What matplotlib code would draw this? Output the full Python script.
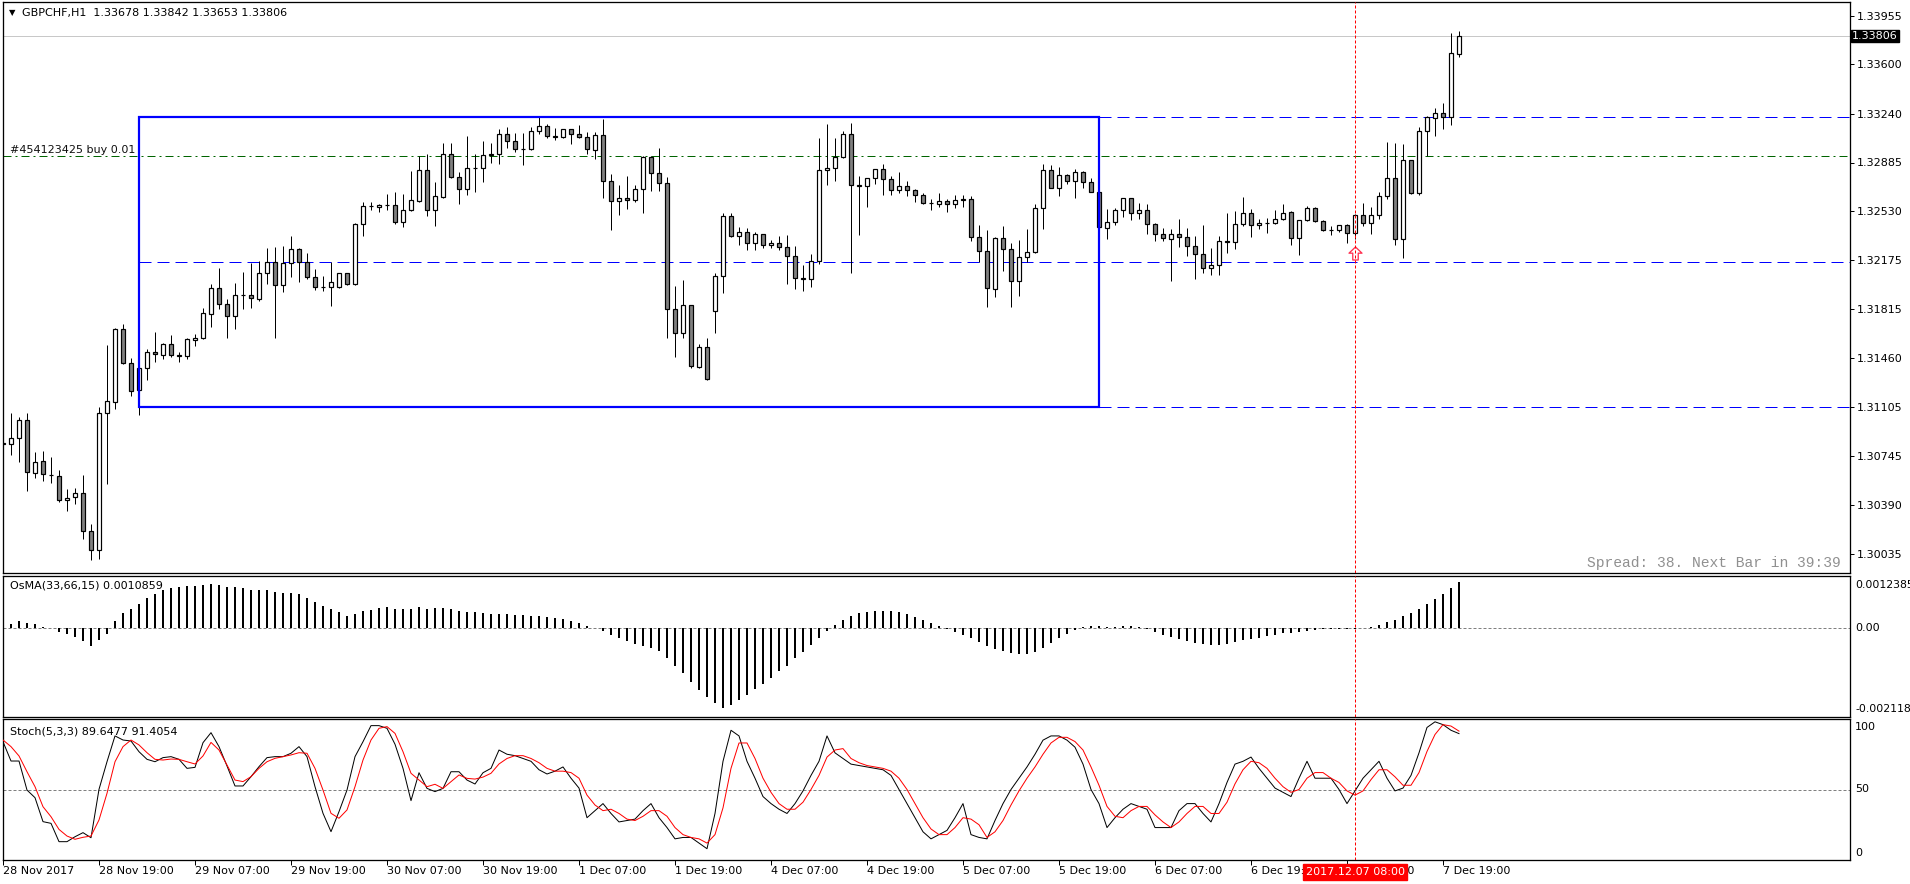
#!/usr/bin/env python3
"""
GBPCHF H1 terminal chart: candles with a range box, OsMA histogram and Stochastic.
"""

import matplotlib

matplotlib.use("Agg")  # Non-interactive backend
import matplotlib.pyplot as plt
import matplotlib.transforms as mtransforms
from matplotlib.patches import Rectangle
from matplotlib.path import Path

# ---------------------------------------------------------------- data
symbol_title = "GBPCHF,H1  1.33678 1.33842 1.33653 1.33806"

opens = [
    1.30841, 1.30834, 1.30877, 1.31008, 1.30625, 1.30710, 1.30612, 1.30605, 1.30426, 1.30448,
    1.30477, 1.30200, 1.30062, 1.31064, 1.31140, 1.31671, 1.31423, 1.31227, 1.31387, 1.31503,
    1.31485, 1.31565, 1.31481, 1.31478, 1.31595, 1.31605, 1.31785, 1.31969, 1.31853, 1.31768,
    1.31918, 1.31920, 1.31893, 1.32078, 1.32163, 1.31991, 1.32151, 1.32253, 1.32163, 1.32049,
    1.31976, 1.31981, 1.31976, 1.32078, 1.31998, 1.32440, 1.32571, 1.32559, 1.32578, 1.32578,
    1.32450, 1.32537, 1.32606, 1.32828, 1.32537, 1.32636, 1.32945, 1.32782, 1.32694, 1.32843,
    1.32846, 1.32940, 1.32949, 1.33090, 1.33039, 1.32981, 1.32984, 1.33112, 1.33149, 1.33080,
    1.33068, 1.33127, 1.33090, 1.33068, 1.32978, 1.33083, 1.32748, 1.32603, 1.32624, 1.32610,
    1.32690, 1.32923, 1.32806, 1.32734, 1.31816, 1.31642, 1.31845, 1.31394, 1.31540, 1.31802,
    1.32057, 1.32493, 1.32348, 1.32377, 1.32297, 1.32362, 1.32282, 1.32297, 1.32268, 1.32202,
    1.32042, 1.32040, 1.32166, 1.32828, 1.32843, 1.32923, 1.33090, 1.32719, 1.32712, 1.32770,
    1.32835, 1.32763, 1.32683, 1.32712, 1.32683, 1.32646, 1.32588, 1.32581, 1.32603, 1.32581,
    1.32617, 1.32617, 1.32341, 1.32239, 1.31965, 1.32337, 1.32253, 1.32020, 1.32195, 1.32231,
    1.32552, 1.32828, 1.32697, 1.32792, 1.32748, 1.32814, 1.32741, 1.32668, 1.32406, 1.32450,
    1.32537, 1.32624, 1.32515, 1.32537, 1.32435, 1.32362, 1.32330, 1.32362, 1.32341, 1.32275,
    1.32217, 1.32115, 1.32137, 1.32311, 1.32308, 1.32435, 1.32515, 1.32428, 1.32442, 1.32442,
    1.32472, 1.32522, 1.32333, 1.32464, 1.32552, 1.32457, 1.32391, 1.32391, 1.32428, 1.32370,
    1.32500, 1.32442, 1.32500, 1.32639, 1.32770, 1.32326, 1.32901, 1.32661, 1.33112, 1.33210,
    1.33243, 1.33214, 1.33678,
]
highs = [
    1.30908, 1.31061, 1.31032, 1.31061, 1.30777, 1.30785, 1.30741, 1.30644, 1.30506, 1.30513,
    1.30612, 1.30253, 1.31103, 1.31554, 1.31680, 1.31709, 1.31460, 1.31390, 1.31525, 1.31649,
    1.31573, 1.31629, 1.31503, 1.31607, 1.31637, 1.31826, 1.32000, 1.32117, 1.31891, 1.32008,
    1.32086, 1.32153, 1.32168, 1.32265, 1.32270, 1.32279, 1.32348, 1.32260, 1.32224, 1.32112,
    1.32059, 1.32163, 1.32083, 1.32083, 1.32445, 1.32595, 1.32595, 1.32580, 1.32654, 1.32670,
    1.32654, 1.32823, 1.32932, 1.32949, 1.32745, 1.33027, 1.33027, 1.32816, 1.33078, 1.32947,
    1.33042, 1.33025, 1.33129, 1.33141, 1.33098, 1.33100, 1.33141, 1.33214, 1.33163, 1.33134,
    1.33127, 1.33130, 1.33156, 1.33105, 1.33107, 1.33200, 1.32799, 1.32719, 1.32785, 1.32719,
    1.32930, 1.32930, 1.32988, 1.32777, 1.31984, 1.32027, 1.31850, 1.31561, 1.31605, 1.32078,
    1.32515, 1.32515, 1.32413, 1.32406, 1.32377, 1.32365, 1.32319, 1.32348, 1.32355, 1.32275,
    1.32137, 1.32217, 1.33063, 1.33163, 1.33063, 1.33112, 1.33170, 1.32785, 1.32775, 1.32838,
    1.32872, 1.32785, 1.32814, 1.32748, 1.32690, 1.32661, 1.32617, 1.32661, 1.32617, 1.32646,
    1.32646, 1.32639, 1.32428, 1.32391, 1.32341, 1.32421, 1.32297, 1.32319, 1.32399, 1.32581,
    1.32872, 1.32865, 1.32850, 1.32799, 1.32835, 1.32821, 1.32770, 1.32690, 1.32544, 1.32552,
    1.32624, 1.32628, 1.32588, 1.32581, 1.32442, 1.32406, 1.32399, 1.32472, 1.32406, 1.32348,
    1.32428, 1.32260, 1.32348, 1.32515, 1.32530, 1.32632, 1.32544, 1.32472, 1.32479, 1.32537,
    1.32585, 1.32530, 1.32464, 1.32566, 1.32559, 1.32464, 1.32421, 1.32428, 1.32435, 1.32508,
    1.32588, 1.32559, 1.32668, 1.33032, 1.33025, 1.33017, 1.32905, 1.33141, 1.33221, 1.33280,
    1.33316, 1.33826, 1.33842,
]
lows = [
    1.30814, 1.30756, 1.30705, 1.30494, 1.30588, 1.30566, 1.30550, 1.30411, 1.30350, 1.30401,
    1.30146, 1.29991, 1.30001, 1.30547, 1.31093, 1.31415, 1.31185, 1.31049, 1.31299, 1.31430,
    1.31457, 1.31471, 1.31433, 1.31454, 1.31549, 1.31602, 1.31690, 1.31816, 1.31610, 1.31675,
    1.31821, 1.31828, 1.31879, 1.32003, 1.31610, 1.31944, 1.32054, 1.32017, 1.32035, 1.31959,
    1.31952, 1.31838, 1.31969, 1.31993, 1.31995, 1.32352, 1.32537, 1.32527, 1.32537, 1.32440,
    1.32413, 1.32530, 1.32600, 1.32498, 1.32425, 1.32629, 1.32774, 1.32585, 1.32651, 1.32672,
    1.32745, 1.32884, 1.32876, 1.32993, 1.32964, 1.32869, 1.32978, 1.33090, 1.33061, 1.33051,
    1.33061, 1.33022, 1.33061, 1.32949, 1.32908, 1.32629, 1.32396, 1.32505, 1.32544, 1.32595,
    1.32515, 1.32675, 1.32675, 1.31610, 1.31471, 1.31605, 1.31387, 1.31387, 1.31300, 1.31642,
    1.31933, 1.32341, 1.32287, 1.32246, 1.32246, 1.32260, 1.32265, 1.32246, 1.32003, 1.31966,
    1.31952, 1.31981, 1.32148, 1.32719, 1.32752, 1.32920, 1.32083, 1.32359, 1.32563, 1.32726,
    1.32651, 1.32651, 1.32661, 1.32639, 1.32600, 1.32581, 1.32537, 1.32559, 1.32522, 1.32552,
    1.32563, 1.32311, 1.32158, 1.31835, 1.31904, 1.32097, 1.31835, 1.31911, 1.32158, 1.32224,
    1.32403, 1.32697, 1.32639, 1.32726, 1.32624, 1.32697, 1.32668, 1.32391, 1.32326, 1.32428,
    1.32486, 1.32464, 1.32472, 1.32362, 1.32311, 1.32311, 1.32020, 1.32268, 1.32202, 1.32035,
    1.32078, 1.32064, 1.32064, 1.32224, 1.32253, 1.32421, 1.32341, 1.32399, 1.32370, 1.32435,
    1.32464, 1.32282, 1.32209, 1.32457, 1.32450, 1.32384, 1.32355, 1.32377, 1.32297, 1.32326,
    1.32421, 1.32362, 1.32472, 1.32621, 1.32284, 1.32192, 1.32654, 1.32646, 1.32930, 1.33076,
    1.33127, 1.33156, 1.33653,
]
closes = [
    1.30836, 1.30877, 1.31008, 1.30630, 1.30707, 1.30615, 1.30608, 1.30426, 1.30445, 1.30481,
    1.30200, 1.30062, 1.31064, 1.31147, 1.31671, 1.31423, 1.31219, 1.31387, 1.31503, 1.31489,
    1.31561, 1.31481, 1.31478, 1.31598, 1.31608, 1.31787, 1.31969, 1.31853, 1.31770, 1.31918,
    1.31922, 1.31896, 1.32078, 1.32158, 1.31991, 1.32151, 1.32253, 1.32163, 1.32049, 1.31976,
    1.31981, 1.32013, 1.32078, 1.31998, 1.32440, 1.32571, 1.32568, 1.32578, 1.32576, 1.32450,
    1.32537, 1.32610, 1.32828, 1.32537, 1.32639, 1.32945, 1.32782, 1.32694, 1.32843, 1.32846,
    1.32937, 1.32949, 1.33090, 1.33039, 1.32981, 1.32984, 1.33112, 1.33149, 1.33076, 1.33068,
    1.33127, 1.33090, 1.33068, 1.32981, 1.33083, 1.32748, 1.32603, 1.32624, 1.32610, 1.32690,
    1.32923, 1.32806, 1.32734, 1.31816, 1.31642, 1.31845, 1.31401, 1.31540, 1.31307, 1.32057,
    1.32493, 1.32348, 1.32377, 1.32297, 1.32362, 1.32282, 1.32297, 1.32268, 1.32202, 1.32042,
    1.32040, 1.32166, 1.32828, 1.32843, 1.32923, 1.33090, 1.32719, 1.32712, 1.32770, 1.32835,
    1.32763, 1.32683, 1.32712, 1.32683, 1.32646, 1.32588, 1.32592, 1.32603, 1.32581, 1.32610,
    1.32610, 1.32341, 1.32239, 1.31969, 1.32333, 1.32253, 1.32020, 1.32195, 1.32231, 1.32552,
    1.32828, 1.32697, 1.32792, 1.32748, 1.32814, 1.32741, 1.32668, 1.32413, 1.32450, 1.32537,
    1.32624, 1.32515, 1.32537, 1.32435, 1.32362, 1.32333, 1.32362, 1.32341, 1.32275, 1.32217,
    1.32115, 1.32137, 1.32311, 1.32308, 1.32435, 1.32515, 1.32428, 1.32442, 1.32445, 1.32472,
    1.32515, 1.32333, 1.32464, 1.32552, 1.32457, 1.32391, 1.32391, 1.32428, 1.32370, 1.32500,
    1.32442, 1.32500, 1.32639, 1.32770, 1.32326, 1.32901, 1.32661, 1.33112, 1.33214, 1.33243,
    1.33214, 1.33680, 1.33806,
]

osma = [
    0.00007, 0.00009, 0.00016, 0.00011, 0.00009, 0.00003, -0.00001, -0.00009, -0.00014, -0.00021,
    -0.00032, -0.00044, -0.00030, -0.00014, 0.00017, 0.00036, 0.00045, 0.00058, 0.00071, 0.00081,
    0.00090, 0.00095, 0.00098, 0.00100, 0.00101, 0.00103, 0.00104, 0.00103, 0.00098, 0.00097,
    0.00095, 0.00090, 0.00090, 0.00090, 0.00085, 0.00083, 0.00083, 0.00081, 0.00071, 0.00062,
    0.00053, 0.00045, 0.00038, 0.00029, 0.00034, 0.00041, 0.00043, 0.00048, 0.00050, 0.00045,
    0.00045, 0.00045, 0.00050, 0.00045, 0.00047, 0.00047, 0.00045, 0.00041, 0.00038, 0.00038,
    0.00036, 0.00034, 0.00034, 0.00033, 0.00031, 0.00031, 0.00028, 0.00028, 0.00026, 0.00024,
    0.00021, 0.00017, 0.00012, 0.00005, 0.00000, -0.00007, -0.00017, -0.00024, -0.00031, -0.00038,
    -0.00043, -0.00047, -0.00055, -0.00071, -0.00090, -0.00107, -0.00130, -0.00149, -0.00166, -0.00180,
    -0.00192, -0.00185, -0.00173, -0.00161, -0.00147, -0.00133, -0.00119, -0.00104, -0.00090, -0.00073,
    -0.00057, -0.00040, -0.00024, -0.00007, 0.00007, 0.00019, 0.00028, 0.00036, 0.00038, 0.00040,
    0.00040, 0.00040, 0.00038, 0.00033, 0.00026, 0.00019, 0.00012, 0.00005, -0.00002, -0.00009,
    -0.00017, -0.00024, -0.00033, -0.00043, -0.00050, -0.00055, -0.00059, -0.00062, -0.00062, -0.00057,
    -0.00047, -0.00036, -0.00024, -0.00014, -0.00005, 0.00002, 0.00005, 0.00005, 0.00002, 0.00002,
    0.00005, 0.00005, 0.00002, -0.00002, -0.00009, -0.00017, -0.00021, -0.00026, -0.00031, -0.00036,
    -0.00038, -0.00040, -0.00040, -0.00038, -0.00033, -0.00028, -0.00026, -0.00024, -0.00019, -0.00017,
    -0.00012, -0.00012, -0.00009, -0.00007, -0.00005, -0.00002, -0.00002, -0.00002, -0.00002, -0.00002,
    0.00000, 0.00002, 0.00007, 0.00014, 0.00019, 0.00028, 0.00036, 0.00045, 0.00057, 0.00069,
    0.00081, 0.00095, 0.0010859,
]

stoch_main = [
    83.9, 70.2, 70.2, 49.6, 44.2, 27.2, 26.0, 13.0, 13.0, 16.5,
    19.4, 15.8, 50.1, 69.7, 88.0, 85.1, 84.4, 76.8, 71.4, 69.7,
    72.6, 73.3, 71.4, 65.0, 65.7, 83.2, 90.3, 80.4, 66.7, 52.5,
    52.5, 59.1, 66.2, 72.6, 73.3, 73.3, 75.7, 80.4, 73.3, 52.0,
    33.1, 20.1, 34.3, 49.6, 73.3, 83.9, 95.3, 95.3, 93.4, 82.1,
    65.0, 42.1, 61.9, 50.8, 48.5, 50.8, 62.6, 62.6, 56.7, 53.9,
    61.9, 65.0, 78.0, 75, 74, 72, 70, 64, 61, 63,
    66, 58, 51, 30, 35, 40, 33, 27, 28, 29,
    35, 40, 30, 23, 15, 16, 16, 12, 8, 33,
    70, 92, 88, 70, 58, 45, 40, 36, 33, 40,
    49, 60, 70, 88, 76, 72, 68, 67, 66, 65,
    64, 60, 50, 40, 30, 20, 15, 18, 21, 30,
    40, 18, 16, 15, 28, 40, 50, 58, 66, 75,
    85, 88, 88, 85, 80, 68, 50, 40, 23, 30,
    36, 40, 38, 36, 23, 23, 23, 35, 40, 40,
    33, 27, 40, 55, 68, 70, 73, 65, 58, 51,
    48, 45, 58, 70, 58, 58, 58, 50, 40, 49,
    58, 64, 70, 58, 49, 51, 60, 76, 94, 98,
    96, 92, 89.6477,
]
stoch_signal = [
    85.1, 80.4, 73.8, 62.6, 52.0, 37.8, 30.7, 21.7, 17.0, 14.7,
    16.1, 17.0, 28.4, 47.3, 69.7, 80.4, 85.1, 81.6, 76.1, 71.4,
    70.9, 71.6, 71.4, 69.7, 68.1, 73.8, 83.4, 78.0, 67.4, 56.7,
    55.6, 59.1, 65.0, 69.7, 72.1, 73.3, 74.5, 76.1, 75.7, 65.0,
    49.6, 33.1, 29.6, 35.5, 52.0, 70.9, 85.1, 93.4, 94.6, 89.8,
    76.8, 61.5, 56.7, 52.0, 53.7, 50.8, 55.6, 60.3, 57.9, 57.4,
    58.8, 61.5, 68.1, 72, 74, 74, 72, 69, 65, 63,
    63, 62, 58, 46, 39, 35, 36, 33, 29, 28,
    31, 35, 35, 31, 23, 18, 16, 15, 12, 18,
    37, 65, 83, 83, 72, 58, 48, 40, 36, 36,
    41, 50, 60, 73, 78, 79, 72, 69, 67, 66,
    65, 63, 58, 50, 40, 30, 22, 18, 18, 23,
    30, 29, 25, 16, 20, 28, 39, 49, 58, 66,
    75, 83, 87, 87, 84, 78, 66, 53, 38, 31,
    30, 35, 38, 38, 32, 27, 23, 27, 33, 38,
    38, 33, 33, 41, 54, 64, 70, 69, 65, 58,
    52, 48, 50, 58, 62, 62, 58, 55, 49, 46,
    49, 57, 64, 64, 59, 53, 53, 62, 77, 89,
    96, 95, 91.4054,
]

price_ticks = [1.33955, 1.33600, 1.33240, 1.32885, 1.32530, 1.32175,
               1.31815, 1.31460, 1.31105, 1.30745, 1.30390, 1.30035]
time_tick_bars = list(range(0, 181, 12))
time_tick_labels = [
    "28 Nov 2017", "28 Nov 19:00", "29 Nov 07:00", "29 Nov 19:00", "30 Nov 07:00",
    "30 Nov 19:00", "1 Dec 07:00", "1 Dec 19:00", "4 Dec 07:00", "4 Dec 19:00",
    "5 Dec 07:00", "5 Dec 19:00", "6 Dec 07:00", "6 Dec 19:00", "7 Dec 07:00", "7 Dec 19:00",
]

# chart objects
box_start, box_end = 17, 137
box_top, box_mid, box_bottom = 1.33216, 1.32158, 1.31107
order_price = 1.32930
order_label = "#454123425 buy 0.01"
bid_price = 1.33806
marker_bar = 169
marker_label = "2017.12.07 08:00"
arrow_price = 1.32226
osma_label = "OsMA(33,66,15) 0.0010859"
osma_range = (-0.002118, 0.0012385)
stoch_label = "Stoch(5,3,3) 89.6477 91.4054"
spread_text = "Spread: 38. Next Bar in 39:39"

# ---------------------------------------------------------------- layout
W, H, DPI = 1910, 884, 100
PX = 72.0 / DPI  # one pixel in points
X_LEFT, X_RIGHT = 2.5, 1850.0
BAR_PX = 8.0
XMIN = (X_LEFT - 3) / BAR_PX
XMAX = (X_RIGHT - 3) / BAR_PX
FONT = "DejaVu Sans"
BLUE = "#0000ff"
RED = "#ff0000"


def frac(x0, y0, x1, y1):
    """Pixel box (top-left origin) to figure fraction rect."""
    return [x0 / W, 1 - y1 / H, (x1 - x0) / W, (y1 - y0) / H]


def style_axes(ax):
    ax.set_xlim(XMIN, XMAX)
    ax.set_xticks([])
    ax.set_yticks([])
    for sp in ax.spines.values():
        sp.set_linewidth(PX * 1.3)
        sp.set_color("black")


def right_label(ax, value, text, y_off, size=8):
    """Scale label just right of a panel, nudged vertically by y_off pixels."""
    tr = mtransforms.offset_copy(
        mtransforms.blended_transform_factory(ax.transAxes, ax.transData),
        fig=ax.figure, x=0, y=y_off, units="dots")
    ax.text((1855 - X_LEFT) / (X_RIGHT - X_LEFT), value, text, ha="left", va="center",
            fontsize=size, clip_on=False, transform=tr)


plt.rcParams["font.family"] = [FONT]
plt.rcParams["font.size"] = 8

fig = plt.figure(figsize=(W / DPI, H / DPI), dpi=DPI)
fig.patch.set_facecolor("white")

ax = fig.add_axes(frac(X_LEFT, 2, X_RIGHT, 573))
ax_os = fig.add_axes(frac(X_LEFT, 576, X_RIGHT, 716.5))
ax_st = fig.add_axes(frac(X_LEFT, 719, X_RIGHT, 860))
for a in (ax, ax_os, ax_st):
    style_axes(a)

# ---------------------------------------------------------------- main price panel
ax.set_ylim(1.34068 - 573 * 7.28e-5, 1.34068 - 2 * 7.28e-5)

bars = range(len(closes))
ax.vlines(bars, lows, highs, color="black", linewidth=PX, zorder=3)
for i in bars:
    o, c = opens[i], closes[i]
    face = "white" if c >= o else "#808080"
    ax.add_patch(Rectangle((i - 0.28, min(o, c)), 0.56, abs(c - o),
                           facecolor=face, edgecolor="black", linewidth=PX * 1.2, zorder=4))

# bid line
ax.axhline(bid_price, color="#c8c8c8", linewidth=PX, zorder=1)

# range box and its levels
ax.add_patch(Rectangle((box_start, box_bottom), box_end - box_start, box_top - box_bottom,
                       fill=False, edgecolor=BLUE, linewidth=PX * 2.2, zorder=5))
dash = (0, (12, 6))
ax.hlines([box_top, box_bottom], box_end, XMAX + 5, colors=BLUE, linewidth=PX, linestyles=[dash], zorder=2)
ax.hlines(box_mid, box_start, XMAX + 5, colors=BLUE, linewidth=PX, linestyles=[dash], zorder=2)

# order line
ax.axhline(order_price, color="#006400", linewidth=PX, linestyle=(0, (8, 4, 2, 4)), zorder=2)
ax.text(0.9, order_price, order_label, fontsize=8, color="#101010", ha="left", va="bottom",
        transform=mtransforms.offset_copy(ax.transData, fig=fig, x=0, y=1, units="dots"))

# arrow signal
arrow = Path([(0, 1), (1, 0.05), (0.42, 0.05), (0.42, -1), (-0.42, -1), (-0.42, 0.05), (-1, 0.05), (0, 1)],
             closed=True)
ax.plot([marker_bar], [arrow_price], marker=arrow, markersize=13 * PX, markerfacecolor="white",
        markeredgecolor="#ff3050", markeredgewidth=1.3 * PX, linestyle="none", zorder=6)

# price scale
ax.yaxis.tick_right()
ax.set_yticks(price_ticks)
ax.set_yticklabels([f"{p:.5f}" for p in price_ticks])
ax.tick_params(axis="y", direction="out", length=4 * PX, width=PX, labelsize=8, pad=2)
ax.text((1852 - X_LEFT) / (X_RIGHT - X_LEFT), bid_price, f"{bid_price:.5f}", color="white",
        fontsize=8, ha="left", va="center", zorder=10, clip_on=False,
        transform=mtransforms.blended_transform_factory(ax.transAxes, ax.transData),
        bbox=dict(boxstyle="square,pad=0.12", facecolor="black", edgecolor="black"))

ax.text(0.9951, 0.0175, spread_text, transform=ax.transAxes, ha="right", va="center",
        family="Liberation Mono", fontsize=10.5, color="#909090")

fig.text(9 / W, 1 - 13 / H, "\u25bc", fontsize=6, ha="left", va="center")
fig.text(22 / W, 1 - 13 / H, symbol_title, fontsize=8, ha="left", va="center")

# ---------------------------------------------------------------- OsMA panel
ax_os.set_ylim(*osma_range)
ax_os.bar(list(bars), osma, width=0.34, color="black", linewidth=0, zorder=3)
ax_os.axhline(0, color="#808080", linewidth=PX, linestyle=(0, (3, 2)), zorder=1)
ax_os.text(7 / 1847.5, 0.93, osma_label, transform=ax_os.transAxes, ha="left", va="center", fontsize=8)
right_label(ax_os, osma_range[1], "0.0012385", -9, size=7.8)
right_label(ax_os, 0.0, "0.00", 0)
right_label(ax_os, osma_range[0], "-0.002118", 7, size=7.8)

# ---------------------------------------------------------------- Stochastic panel
ax_st.set_ylim(0, 100)
ax_st.plot(list(bars), stoch_main, color="black", linewidth=PX, zorder=3)
ax_st.plot(list(bars), stoch_signal, color=RED, linewidth=PX, zorder=3)
ax_st.axhline(50, color="#808080", linewidth=PX, linestyle=(0, (3, 2)), zorder=1)
ax_st.text(7 / 1847.5, 0.91, stoch_label, transform=ax_st.transAxes, ha="left", va="center", fontsize=8)
right_label(ax_st, 100, "100", -8)
right_label(ax_st, 50, "50", 0)
right_label(ax_st, 0, "0", 7)

# time axis
ax_st.set_xticks(time_tick_bars)
ax_st.set_xticklabels(time_tick_labels, ha="left")
ax_st.tick_params(axis="x", direction="out", length=5 * PX, width=PX, labelsize=8, pad=1)
ax_st.text(marker_bar, -0.085, marker_label, color="white", fontsize=8, ha="center", va="center",
           zorder=10, clip_on=False,
           transform=mtransforms.blended_transform_factory(ax_st.transData, ax_st.transAxes),
           bbox=dict(boxstyle="square,pad=0.25", facecolor=RED, edgecolor=RED))

# vertical time marker across all panels
for a in (ax, ax_os, ax_st):
    a.axvline(marker_bar, color=RED, linewidth=PX, linestyle=(0, (3, 2)), zorder=7)

fig.savefig("out.png", dpi=DPI)
plt.close(fig)
